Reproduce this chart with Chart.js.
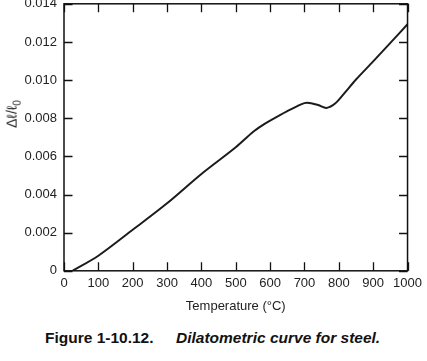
<!DOCTYPE html>
<html>
<head>
<meta charset="utf-8">
<script src="https://cdn.jsdelivr.net/npm/chart.js@4.4.1/dist/chart.umd.min.js"></script>
<style>
  html, body { margin: 0; padding: 0; background: #fff; width: 427px; height: 361px; overflow: hidden; }
  #wrap { position: absolute; left: 0; top: -6px; width: 427px; height: 340px; }
  #ytitle { position: absolute; left: 13px; top: 114px; transform: translate(-50%, -50%) rotate(-90deg);
            font-family: "Liberation Sans", Arial, sans-serif; font-size: 14px; color: #222; white-space: nowrap; }
  .cap { position: absolute; top: 329px; font-family: "Liberation Sans", Arial, sans-serif; font-size: 15.5px;
         font-weight: bold; color: #111; line-height: 18px; white-space: nowrap; }
</style>
</head>
<body>
<div id="wrap"><canvas id="c" width="427" height="340" style="width:427px;height:340px"></canvas></div>
<div id="ytitle">Δℓ/ℓ<sub style="font-size:10px">0</sub></div>
<div class="cap" style="left:45px">Figure 1-10.12.</div>
<div class="cap" style="left:176px;font-style:italic">Dilatometric curve for steel.</div>
<script>
// Data
const temperatures = [25, 100, 200, 300, 400, 500, 550, 575, 600, 650, 690, 708, 740, 764, 790, 817, 850, 900, 950, 1000];
const expansion = [0, 0.00079, 0.00215, 0.00354, 0.00508, 0.00648, 0.00728, 0.0076, 0.00787, 0.00837, 0.00873, 0.00881, 0.00869, 0.00854, 0.00878, 0.00933, 0.01003, 0.01098, 0.01195, 0.01293];
const xTickValues = [0, 100, 200, 300, 400, 500, 600, 700, 800, 900, 1000];
const yTickValues = [0, 0.002, 0.004, 0.006, 0.008, 0.010, 0.012, 0.014];

const points = temperatures.map((t, i) => ({ x: t, y: expansion[i] }));

const FONT = "'Liberation Sans', Arial, sans-serif";

const frameAndTicks = {
  id: 'frameAndTicks',
  afterDraw(chart) {
    const { ctx, chartArea: a, scales: { x, y } } = chart;
    ctx.save();
    ctx.strokeStyle = '#111';
    ctx.lineWidth = 1.5;
    ctx.strokeRect(a.left, a.top, a.right - a.left, a.bottom - a.top);
    const L = 8.5;
    ctx.beginPath();
    xTickValues.forEach(v => {
      const px = Math.round(x.getPixelForValue(v)) + 0.5;
      ctx.moveTo(px, a.bottom); ctx.lineTo(px, a.bottom - L);
      ctx.moveTo(px, a.top); ctx.lineTo(px, a.top + L);
    });
    yTickValues.forEach(v => {
      const py = Math.round(y.getPixelForValue(v)) + 0.5;
      ctx.moveTo(a.left, py); ctx.lineTo(a.left + L, py);
      ctx.moveTo(a.right, py); ctx.lineTo(a.right - L, py);
    });
    ctx.lineWidth = 1.3;
    ctx.stroke();
    ctx.restore();
  }
};

const chart = new Chart(document.getElementById('c'), {
  type: 'line',
  data: {
    datasets: [{
      data: points,
      borderColor: '#1c1c1c',
      borderWidth: 2,
      pointRadius: 0,
      fill: false,
      tension: 0.3
    }]
  },
  options: {
    responsive: false,
    maintainAspectRatio: false,
    animation: false,
    events: [],
    layout: { padding: { left: 18, right: 10, top: 0, bottom: 20 } },
    plugins: { legend: { display: false }, tooltip: { enabled: false } },
    scales: {
      x: {
        type: 'linear', min: 0, max: 1000,
        afterBuildTicks: s => { s.ticks = xTickValues.map(v => ({ value: v })); },
        grid: { display: false, drawTicks: false },
        border: { display: false },
        ticks: { color: '#222', font: { family: FONT, size: 13 }, padding: 5, maxRotation: 0, autoSkip: false,
                 callback: v => String(v) },
        title: { display: true, text: 'Temperature (°C)', color: '#222', font: { family: FONT, size: 13 }, padding: { top: 2, bottom: 2 } }
      },
      y: {
        type: 'linear', min: 0, max: 0.014,
        afterBuildTicks: s => { s.ticks = yTickValues.map(v => ({ value: v })); },
        grid: { display: false, drawTicks: false },
        border: { display: false },
        ticks: { color: '#222', font: { family: FONT, size: 13 }, padding: 7, autoSkip: false,
                 callback: v => v === 0 ? '0' : v.toFixed(3) }
      }
    }
  },
  plugins: [frameAndTicks]
});

// Fit the chart area to the reference frame: left 64, right 410, top 4, bottom 271
for (let k = 0; k < 3; k++) {
  const a = chart.chartArea;
  const p = chart.options.layout.padding;
  const pl = p.left + (64 - a.left);
  const pr = p.right + (a.right - 410);
  const pb = Math.max(0, p.bottom + (a.bottom - a.top) - 267);
  chart.options.layout.padding = { left: pl, right: pr, top: 0, bottom: pb };
  chart.update();
}
document.getElementById('wrap').style.top = (4 - chart.chartArea.top) + 'px';
</script>
</body>
</html>
